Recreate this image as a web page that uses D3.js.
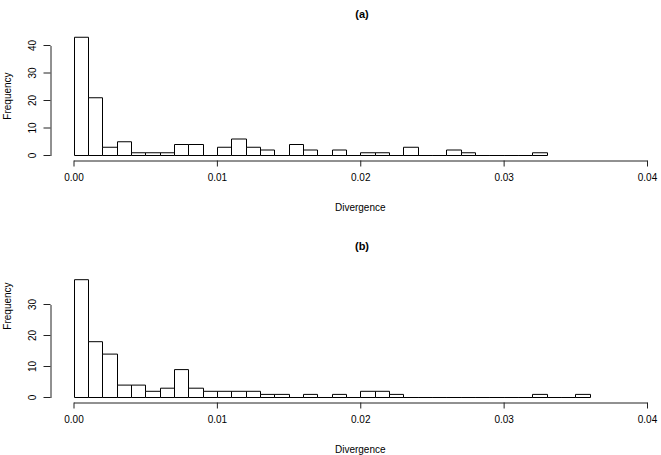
<!DOCTYPE html>
<html>
<head>
<meta charset="utf-8">
<style>
  body { margin: 0; background: #fff; }
  text { font-family: 'Liberation Sans', Arial, sans-serif; }
</style>
</head>
<body>
<script src="https://d3js.org/d3.v7.min.js"></script>
<script>
  // histogram counts, bins of width 0.001 starting at 0
  const binWidth = 0.001
  const countsA = [43, 21, 3, 5, 1, 1, 1, 4, 4, 0, 3, 6, 3, 2, 0, 4, 2, 0, 2, 0, 1, 1, 0, 3, 0, 0, 2, 1, 0, 0, 0, 0, 1]
  const countsB = [38, 18, 14, 4, 4, 2, 3, 9, 3, 2, 2, 2, 2, 1, 1, 0, 1, 0, 1, 0, 2, 2, 1, 0, 0, 0, 0, 0, 0, 0, 0, 0, 1, 0, 0, 1]
  const xTicks = [0, 0.01, 0.02, 0.03, 0.04]
  const yTicksA = [0, 10, 20, 30, 40]
  const yTicksB = [0, 10, 20, 30]

  const width = 661
  const height = 455

  const svg = d3.select('body')
    .append('svg')
    .attr('width', width)
    .attr('height', height)

  const x = d3.scaleLinear().domain([0, 0.04]).range([73.5, 647])

  const panels = [
    { title: '(a)', counts: countsA, yTicks: yTicksA, y0: 155.5, yTop: 45.5, titleY: 18, ylabY: 96 },
    { title: '(b)', counts: countsB, yTicks: yTicksB, y0: 397.5, yTop: 304.5, titleY: 250, ylabY: 306 }
  ]

  panels.forEach(p => {
    const yMax = p.yTicks[p.yTicks.length - 1]
    const y = d3.scaleLinear().domain([0, yMax]).range([p.y0, p.yTop])
    const g = svg.append('g')

    // bars (paths so empty bins still show as a line on the baseline)
    g.selectAll('path.bar')
      .data(p.counts)
      .enter().append('path')
      .attr('class', 'bar')
      .attr('d', (d, i) => {
        const x0 = Math.round(x(i * binWidth)) + 0.5
        const x1 = Math.round(x((i + 1) * binWidth)) + 0.5
        return `M${x0},${y(0)}V${y(d)}H${x1}V${y(0)}Z`
      })
      .attr('fill', '#fff')
      .attr('stroke', '#000')
      .attr('stroke-width', 1)

    // x axis
    const xAxis = d3.axisBottom(x)
      .tickValues(xTicks)
      .tickFormat(d3.format('.2f'))
      .tickSize(6)
      .tickSizeOuter(0)
    const gx = g.append('g')
      .attr('transform', `translate(0, ${p.y0 + 5})`)
      .call(xAxis)
    gx.selectAll('text')
      .attr('font-size', 10)
      .attr('dy', 0)
      .attr('y', 20)
      .attr('fill', '#000')
    gx.selectAll('path, line').attr('stroke', '#222')

    // y axis
    const yAxis = d3.axisLeft(y)
      .tickValues(p.yTicks)
      .tickSize(7)
      .tickSizeOuter(0)
    const gy = g.append('g')
      .attr('transform', 'translate(50.5, 0)')
      .call(yAxis)
    gy.selectAll('path, line').attr('stroke', '#222')
    gy.selectAll('.tick').attr('transform', null)
    gy.selectAll('.tick line').attr('transform', d => `translate(0, ${y(d)})`)
    gy.selectAll('.tick text')
      .attr('font-size', 10)
      .attr('x', 0)
      .attr('y', 0)
      .attr('dy', 0)
      .attr('text-anchor', 'middle')
      .attr('fill', '#000')
      .attr('transform', d => `translate(-15, ${y(d)}) rotate(-90)`)

    // labels
    svg.append('text')
      .attr('x', 362)
      .attr('y', p.titleY)
      .attr('text-anchor', 'middle')
      .attr('font-size', 11)
      .attr('font-weight', 'bold')
      .text(p.title)

    svg.append('text')
      .attr('x', x(0.02))
      .attr('y', p.y0 + 55)
      .attr('text-anchor', 'middle')
      .attr('font-size', 10)
      .text('Divergence')

    svg.append('text')
      .attr('transform', `translate(11, ${p.ylabY}) rotate(-90)`)
      .attr('text-anchor', 'middle')
      .attr('font-size', 10)
      .text('Frequency')
  })
</script>
</body>
</html>
